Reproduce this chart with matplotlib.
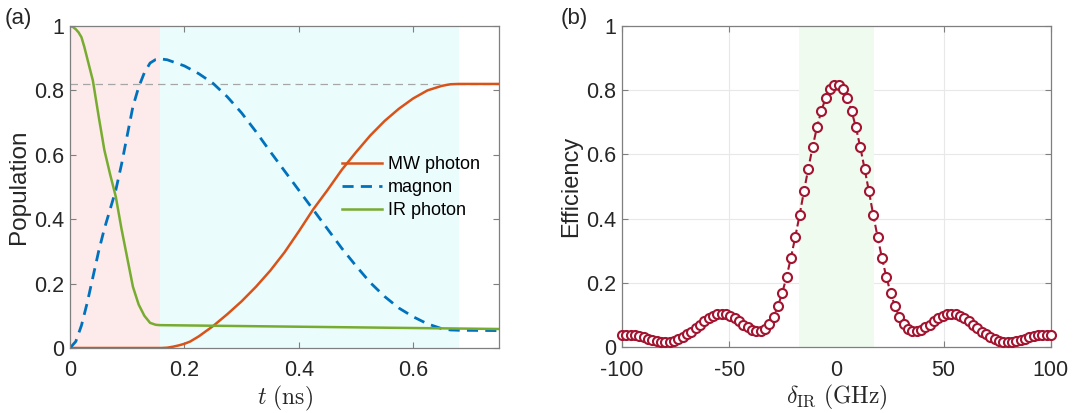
import numpy as np
import matplotlib
matplotlib.use("Agg")
import matplotlib.pyplot as plt

plt.rcParams['font.family'] = ['Liberation Sans', 'DejaVu Sans']
plt.rcParams['mathtext.fontset'] = 'cm'
plt.rcParams['axes.unicode_minus'] = False

# (a) populations vs time (ns)
t_mw = [0, 0.16, 0.17, 0.18, 0.19, 0.2, 0.21, 0.225, 0.25, 0.275, 0.3, 0.325, 0.35,
        0.375, 0.4, 0.425, 0.45, 0.475, 0.5, 0.525, 0.55, 0.575, 0.6, 0.625,
        0.65, 0.665, 0.68, 0.75]
mw_photon = [0, 0, 0.001, 0.004, 0.008, 0.013, 0.02, 0.036, 0.068, 0.105, 0.145, 0.19,
             0.24, 0.297, 0.362, 0.43, 0.49, 0.553, 0.608, 0.66, 0.705, 0.743, 0.775,
             0.8, 0.814, 0.819, 0.82, 0.82]

t_mag = [0, 0.01, 0.02, 0.03, 0.04, 0.05, 0.06, 0.07, 0.08, 0.09, 0.1, 0.11, 0.12,
         0.13, 0.14, 0.15, 0.157, 0.17, 0.2, 0.225, 0.25, 0.275, 0.3, 0.325, 0.35,
         0.375, 0.4, 0.425, 0.45, 0.475, 0.5, 0.525, 0.55, 0.575, 0.6, 0.625, 0.65,
         0.665, 0.68, 0.75]
magnon = [0, 0.02, 0.07, 0.14, 0.22, 0.3, 0.37, 0.43, 0.49, 0.57, 0.66, 0.75, 0.81,
          0.855, 0.885, 0.896, 0.898, 0.895, 0.876, 0.852, 0.822, 0.78, 0.73, 0.672,
          0.61, 0.55, 0.49, 0.43, 0.37, 0.31, 0.255, 0.203, 0.16, 0.124, 0.097, 0.075,
          0.06, 0.056, 0.055, 0.054]

t_ir = [0, 0.005, 0.01, 0.015, 0.02, 0.025, 0.03, 0.04, 0.05, 0.06, 0.07, 0.08, 0.09,
        0.1, 0.11, 0.12, 0.13, 0.14, 0.15, 0.157, 0.75]
ir_photon = [1.0, 0.997, 0.99, 0.98, 0.965, 0.935, 0.9, 0.83, 0.72, 0.615, 0.54, 0.47,
             0.37, 0.28, 0.19, 0.135, 0.1, 0.078, 0.072, 0.071, 0.059]

# (b) efficiency vs detuning (GHz)
detuning = np.linspace(-100, 100, 100)
efficiency = [0.037, 0.038, 0.037, 0.036, 0.033, 0.030, 0.026, 0.022, 0.019, 0.017,
              0.016, 0.017, 0.020, 0.025, 0.031, 0.039, 0.048, 0.058, 0.069, 0.080,
              0.089, 0.097, 0.102, 0.104, 0.102, 0.097, 0.089, 0.080, 0.070, 0.061,
              0.054, 0.050, 0.051, 0.057, 0.072, 0.095, 0.127, 0.169, 0.219, 0.278,
              0.343, 0.411, 0.485, 0.555, 0.623, 0.684, 0.735, 0.775, 0.804, 0.817,
              0.817, 0.804, 0.775, 0.735, 0.684, 0.623, 0.555, 0.485, 0.411, 0.343,
              0.278, 0.219, 0.169, 0.127, 0.095, 0.072, 0.057, 0.051, 0.050, 0.054,
              0.061, 0.070, 0.080, 0.089, 0.097, 0.102, 0.104, 0.102, 0.097, 0.089,
              0.080, 0.069, 0.058, 0.048, 0.039, 0.031, 0.025, 0.020, 0.017, 0.016,
              0.017, 0.019, 0.022, 0.026, 0.030, 0.033, 0.036, 0.037, 0.038, 0.037]

fig = plt.figure(figsize=(10.74, 4.13), dpi=100)
ax1 = fig.add_axes([0.0652, 0.1574, 0.3994, 0.7797])
ax2 = fig.add_axes([0.5791, 0.1598, 0.3994, 0.7773])

spine_col = '#7f7f7f'
text_col = '#262626'


def style(ax):
    for s in ax.spines.values():
        s.set_color(spine_col)
        s.set_linewidth(0.9)
    ax.tick_params(direction='in', top=True, right=True, length=4, width=0.8,
                   color=spine_col, labelcolor=text_col, labelsize=15.5)
    ax.tick_params(axis='x', pad=9)
    ax.tick_params(axis='y', pad=4)


# panel (a)
ax1.axvspan(0, 0.157, color='#fdeaea', lw=0)
ax1.axvspan(0.157, 0.68, color='#ebfcfc', lw=0)
ax1.axhline(0.82, color='#a6a6a6', lw=0.9, ls=(0, (6, 4)))
ax1.plot(t_mw, mw_photon, color='#d95319', lw=1.8, label='MW photon')
ax1.plot(t_mag, magnon, color='#0072bd', lw=2.0, dashes=(4, 2.6), label='magnon')
ax1.plot(t_ir, ir_photon, color='#77ac30', lw=1.8, label='IR photon')
ax1.set_xlim(0, 0.75)
ax1.set_ylim(0, 1)
ax1.set_xticks([0, 0.2, 0.4, 0.6])
ax1.set_xticklabels(['0', '0.2', '0.4', '0.6'])
ax1.set_yticks([0, 0.2, 0.4, 0.6, 0.8, 1])
ax1.set_yticklabels(['0', '0.2', '0.4', '0.6', '0.8', '1'])
style(ax1)
ax1.set_xlabel(r'$t\ (\mathrm{ns})$', fontsize=17, color=text_col, labelpad=2)
ax1.set_ylabel('Population', fontsize=17.5, color=text_col, labelpad=3)
ax1.legend(loc='upper left', bbox_to_anchor=(0.635, 0.595), frameon=False,
           fontsize=13, handlelength=2.2, handletextpad=0.3, labelspacing=0.32,
           borderpad=0, borderaxespad=0)
fig.text(0.004, 0.98, '(a)', fontsize=16, color=text_col, va='top')

# panel (b)
ax2.axvspan(-17.5, 17.5, color='#effbee', lw=0)
ax2.grid(True, color='#e8e8e8', lw=0.8)
ax2.set_axisbelow(True)
ax2.plot(detuning, efficiency, color='#a2142f', lw=1.5, ls='--', marker='o',
         markersize=6.5, markerfacecolor='white', markeredgewidth=1.5, clip_on=False,
         zorder=3)
ax2.set_xlim(-100, 100)
ax2.set_ylim(0, 1)
ax2.set_xticks([-100, -50, 0, 50, 100])
ax2.set_yticks([0, 0.2, 0.4, 0.6, 0.8, 1])
ax2.set_yticklabels(['0', '0.2', '0.4', '0.6', '0.8', '1'])
style(ax2)
ax2.set_xlabel(r'$\delta_{\mathrm{IR}}\ (\mathrm{GHz})$', fontsize=17, color=text_col,
               labelpad=2)
ax2.set_ylabel('Efficiency', fontsize=17, color=text_col, labelpad=3)
fig.text(0.522, 0.98, '(b)', fontsize=16, color=text_col, va='top')

fig.savefig('out.png', dpi=100)
